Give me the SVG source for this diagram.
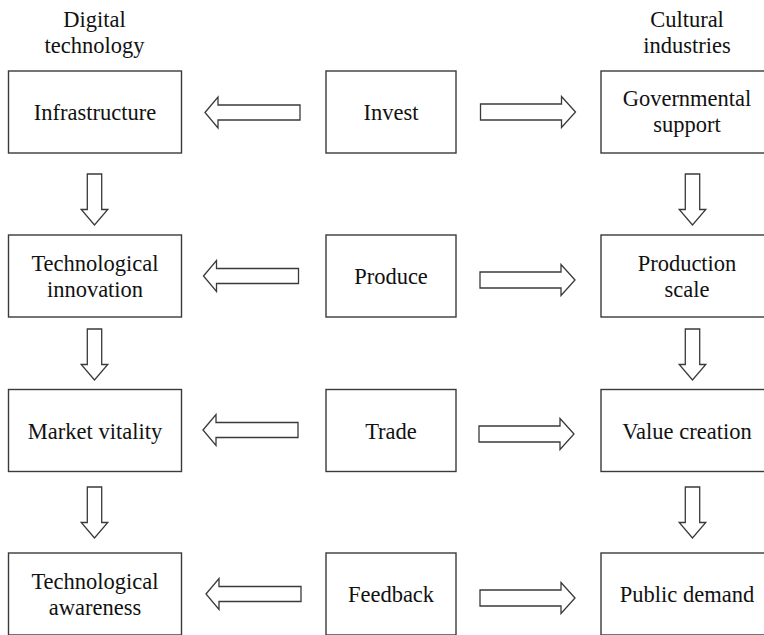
<svg xmlns="http://www.w3.org/2000/svg" xmlns:xlink="http://www.w3.org/1999/xlink" width="764" height="635" viewBox="0 0 764 635" font-family="'Liberation Serif', 'Times New Roman', serif">
  <style>
    .box { fill: #ffffff; stroke: #3a3a3a; stroke-width: 1.4; }
    .arrow { fill: #ffffff; stroke: #3a3a3a; stroke-width: 1.3; stroke-linejoin: miter; }
    .label { font-family: "Liberation Serif", "Times New Roman", serif; font-size: 22.5px; fill: #111111; text-anchor: middle; }
  </style>
  <defs>
    <!-- hollow block arrows, tip at the origin -->
    <polygon id="arrowLeft" class="arrow" points="0,0 13,-15.5 13,-7.5 95,-7.5 95,7.5 13,7.5 13,15.5"/>
    <polygon id="arrowRight" class="arrow" points="0,0 -14,-15.5 -14,-8 -95,-8 -95,8 -14,8 -14,15.5"/>
    <polygon id="arrowDown" class="arrow" points="0,0 -13.3,-15.5 -7.2,-15.5 -7.2,-51 7.2,-51 7.2,-15.5 13.3,-15.5"/>
  </defs>
  <rect width="764" height="635" fill="#ffffff"/>

  <!-- column headings -->
  <g id="heading-digital" class="label">
    <text x="94.5" y="26.5">Digital</text>
    <text x="94.5" y="52.5">technology</text>
  </g>
  <g id="heading-cultural" class="label">
    <text x="687" y="26.5">Cultural</text>
    <text x="687" y="52.5">industries</text>
  </g>

  <!-- left column: digital technology -->
  <g id="infrastructure" class="label">
    <rect class="box" x="8.5" y="71" width="173" height="82"/>
    <text x="95" y="120">Infrastructure</text>
  </g>
  <g id="technological-innovation" class="label">
    <rect class="box" x="8.5" y="235" width="173" height="82"/>
    <text x="95" y="270.5">Technological</text>
    <text x="95" y="296.5">innovation</text>
  </g>
  <g id="market-vitality" class="label">
    <rect class="box" x="8.5" y="389.5" width="173" height="82"/>
    <text x="95" y="439">Market vitality</text>
  </g>
  <g id="technological-awareness" class="label">
    <rect class="box" x="8.5" y="553" width="173" height="82"/>
    <text x="95" y="588.5">Technological</text>
    <text x="95" y="614.5">awareness</text>
  </g>

  <!-- middle column: activities -->
  <g id="invest" class="label">
    <rect class="box" x="326" y="71" width="130" height="82"/>
    <text x="391" y="120">Invest</text>
  </g>
  <g id="produce" class="label">
    <rect class="box" x="326" y="235" width="130" height="82"/>
    <text x="391" y="284">Produce</text>
  </g>
  <g id="trade" class="label">
    <rect class="box" x="326" y="389.5" width="130" height="82"/>
    <text x="391" y="439">Trade</text>
  </g>
  <g id="feedback" class="label">
    <rect class="box" x="326" y="553" width="130" height="82"/>
    <text x="391" y="602">Feedback</text>
  </g>

  <!-- right column: cultural industries -->
  <g id="governmental-support" class="label">
    <rect class="box" x="601" y="71" width="173" height="82"/>
    <text x="687" y="106">Governmental</text>
    <text x="687" y="132">support</text>
  </g>
  <g id="production-scale" class="label">
    <rect class="box" x="601" y="235" width="173" height="82"/>
    <text x="687" y="270.5">Production</text>
    <text x="687" y="296.5">scale</text>
  </g>
  <g id="value-creation" class="label">
    <rect class="box" x="601" y="389.5" width="173" height="82"/>
    <text x="687" y="439">Value creation</text>
  </g>
  <g id="public-demand" class="label">
    <rect class="box" x="601" y="553" width="173" height="82"/>
    <text x="687" y="602">Public demand</text>
  </g>

  <!-- connectors -->
  <g id="connectors">
    <use xlink:href="#arrowLeft" x="205" y="112.5"/>
    <use xlink:href="#arrowLeft" x="203.5" y="276"/>
    <use xlink:href="#arrowLeft" x="203" y="430"/>
    <use xlink:href="#arrowLeft" x="206" y="594"/>

    <use xlink:href="#arrowRight" x="575.5" y="112"/>
    <use xlink:href="#arrowRight" x="575" y="280"/>
    <use xlink:href="#arrowRight" x="574" y="434"/>
    <use xlink:href="#arrowRight" x="575" y="598"/>

    <use xlink:href="#arrowDown" x="94.5" y="225"/>
    <use xlink:href="#arrowDown" x="94.5" y="380"/>
    <use xlink:href="#arrowDown" x="94.5" y="538"/>

    <use xlink:href="#arrowDown" x="692.5" y="225"/>
    <use xlink:href="#arrowDown" x="692.5" y="380"/>
    <use xlink:href="#arrowDown" x="692.5" y="538"/>
  </g>
</svg>
